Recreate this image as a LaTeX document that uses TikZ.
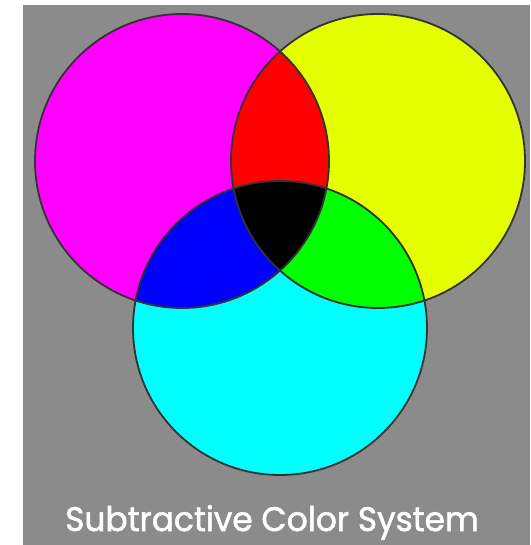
\documentclass[tikz,border=0pt]{standalone}
\usepackage{fontspec}
\setmainfont{Poppins}
\newfontfamily\capfont{Poppins}[FakeBold=1.6]
\definecolor{panelgray}{RGB}{139,139,139}
\definecolor{inkmagenta}{RGB}{255,0,255}
\definecolor{inkyellow}{RGB}{228,255,0}
\definecolor{inkcyan}{RGB}{0,255,255}
\definecolor{mixred}{RGB}{255,0,0}
\definecolor{mixgreen}{RGB}{0,255,0}
\definecolor{mixblue}{RGB}{0,0,255}
\tikzset{
  rim/.style={draw=black!80, line width=1.8pt},
  caption/.style={text=white, font=\capfont\fontsize{34}{36}\selectfont, inner sep=0pt, anchor=base, xscale=0.965}
}
\begin{document}
\begin{tikzpicture}[x=1pt,y=-1pt]
  \useasboundingbox (0,0) rectangle (530,545);
  \fill[panelgray] (23,5) rectangle (530,545);
  \def\rad{147pt}
  \coordinate (mag) at (182,161);
  \coordinate (yel) at (378,161);
  \coordinate (cya) at (280,328);
  % the three inks
  \fill[inkmagenta] (mag) circle (\rad);
  \fill[inkyellow] (yel) circle (\rad);
  \fill[inkcyan] (cya) circle (\rad);
  % two-ink overlaps
  \begin{scope}
    \clip (yel) circle (\rad);
    \fill[mixgreen] (cya) circle (\rad);
  \end{scope}
  \begin{scope}
    \clip (mag) circle (\rad);
    \fill[mixblue] (cya) circle (\rad);
  \end{scope}
  \begin{scope}
    \clip (mag) circle (\rad);
    \fill[mixred] (yel) circle (\rad);
  \end{scope}
  % all three
  \begin{scope}
    \clip (mag) circle (\rad);
    \clip (yel) circle (\rad);
    \fill[black] (cya) circle (\rad);
  \end{scope}
  \draw[rim] (mag) circle (\rad);
  \draw[rim] (yel) circle (\rad);
  \draw[rim] (cya) circle (\rad);
  \node[caption] (title) at (272,531) {Subtractive Color System};
\end{tikzpicture}
\end{document}
